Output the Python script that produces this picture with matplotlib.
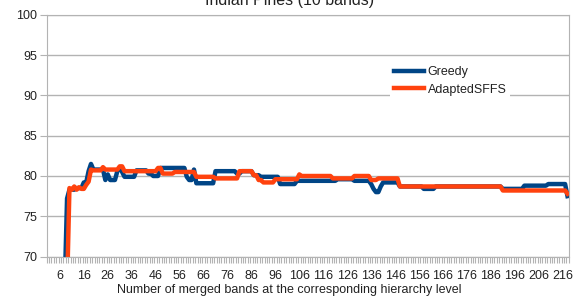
import numpy as np
import matplotlib
matplotlib.use("Agg")
import matplotlib.pyplot as plt
from matplotlib.ticker import FixedLocator, NullFormatter

plt.rcParams['font.family'] = ['Liberation Sans', 'DejaVu Sans']

# number of merged bands (category axis 1..218)
bands = np.arange(1, 219)

# accuracy as (run length, value); values < 70 are off-chart
greedy_runs = [(8, 66), (1, 77.2), (3, 78.3), (3, 78.5), (2, 79.2), (1, 80.6), (1, 81.5),
               (5, 80.8), (1, 79.5), (1, 80.2), (3, 79.5), (1, 80.6), (1, 81.0), (1, 80.5),
               (5, 79.9), (5, 80.7), (2, 80.3), (3, 80.0), (11, 81.0), (1, 79.9), (2, 79.5),
               (1, 80.8), (8, 79.1), (9, 80.6), (2, 80.3), (5, 80.6), (3, 80.1), (8, 79.9),
               (7, 79.0), (17, 79.4), (7, 79.6), (7, 79.4), (1, 79.0), (1, 78.4), (2, 78.0),
               (1, 78.7), (7, 79.2), (10, 78.7), (5, 78.4), (28, 78.7), (9, 78.4), (10, 78.8),
               (8, 79.0), (1, 77.5)]
sffs_runs = [(9, 66), (1, 78.5), (1, 78.3), (1, 78.7), (1, 78.3), (1, 78.6), (2, 78.4),
             (1, 78.9), (1, 79.3), (1, 80.8), (4, 80.7), (1, 81.1), (6, 80.8), (2, 81.2),
             (14, 80.6), (2, 81.0), (5, 80.3), (9, 80.5), (8, 79.9), (10, 79.7), (6, 80.6),
             (2, 80.1), (2, 79.5), (5, 79.2), (10, 79.6), (1, 80.2), (13, 80.0), (9, 79.7),
             (7, 80.0), (3, 79.5), (9, 79.7), (43, 78.7), (27, 78.2), (1, 77.8)]

tick_labels = list(range(6, 217, 10))


def expand(runs):
    vals = []
    for n, v in runs:
        vals += [v] * n
    return np.array(vals)


greedy = expand(greedy_runs)
sffs = expand(sffs_runs)

fig = plt.figure(figsize=(5.79, 2.97), dpi=100)
ax = fig.add_axes([46.7 / 579, 1 - 256.5 / 297, 522 / 579, 241.5 / 297])

ax.plot(bands, greedy, color='#004586', lw=3.2, label='Greedy', solid_joinstyle='round')
ax.plot(bands, sffs, color='#ff420e', lw=3.2, label='AdaptedSFFS', solid_joinstyle='round')

ax.set_xlim(0.5, 218.5)
ax.set_ylim(70, 100)
ax.set_yticks(range(70, 101, 5))
ax.yaxis.grid(True, color='#b3b3b3', lw=1)
ax.set_axisbelow(True)
for s in ax.spines.values():
    s.set_color('#b3b3b3')

ax.set_xticks(tick_labels)
ax.set_xticklabels([str(t) for t in tick_labels])
ax.xaxis.set_minor_locator(FixedLocator(np.arange(0.5, 219, 1)))
ax.xaxis.set_minor_formatter(NullFormatter())
ax.tick_params(axis='x', which='major', length=0, pad=9.5, labelsize=9, labelcolor='#222222')
ax.tick_params(axis='x', which='minor', length=4, color='#b3b3b3', width=0.8)
ax.tick_params(axis='y', length=5, color='#b3b3b3', labelsize=9, labelcolor='#222222', pad=2)

fig.text(0.5, 1 - 5 / 297, 'Indian Pines (10 bands)', ha='center', va='baseline',
         fontsize=11.5, color='#222222')
fig.text(0.5, 1 - 290 / 297, 'Number of merged bands at the corresponding hierarchy level',
         ha='center', va='center', fontsize=9, color='#222222')

leg = ax.legend(loc='upper left', bbox_to_anchor=(384 / 579, 1 - 56 / 297),
                bbox_transform=fig.transFigure, frameon=True, fancybox=False,
                edgecolor='none', facecolor='white', framealpha=1, fontsize=9,
                handlelength=2.4, handletextpad=0.3, labelspacing=0.45, borderpad=0.3)
for t in leg.get_texts():
    t.set_color('#222222')

fig.savefig('out.png', dpi=100)
